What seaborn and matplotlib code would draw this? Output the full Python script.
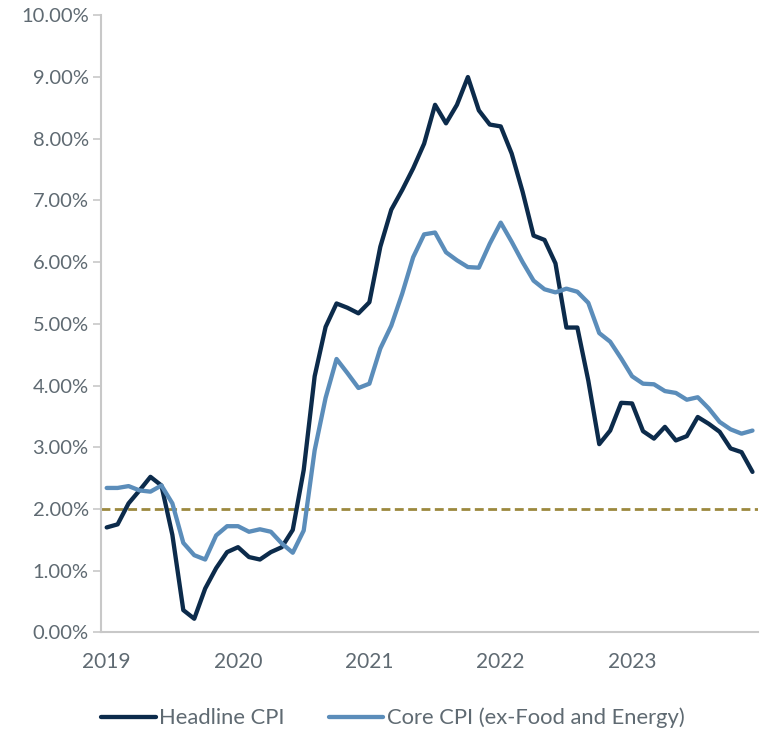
import numpy as np
import pandas as pd
import matplotlib.pyplot as plt
import matplotlib.ticker as mticker
import seaborn as sns

# valores (% interanual, mensual, 60 puntos)
MESES = np.arange(60)
HEADLINE = [1.70, 1.75, 2.09, 2.30, 2.52, 2.38, 1.58, 0.36, 0.22, 0.71, 1.04, 1.30,
            1.38, 1.22, 1.18, 1.30, 1.38, 1.66, 2.63, 4.15, 4.95, 5.33, 5.26, 5.17,
            5.35, 6.25, 6.85, 7.17, 7.52, 7.92, 8.55, 8.25, 8.55, 9.00, 8.46, 8.23,
            8.20, 7.76, 7.14, 6.43, 6.36, 5.98, 4.94, 4.94, 4.08, 3.05, 3.27, 3.72,
            3.71, 3.26, 3.14, 3.33, 3.11, 3.18, 3.49, 3.38, 3.25, 2.98, 2.92, 2.60]
CORE = [2.34, 2.34, 2.37, 2.30, 2.28, 2.38, 2.09, 1.45, 1.25, 1.18, 1.57, 1.72,
        1.72, 1.63, 1.67, 1.63, 1.44, 1.29, 1.65, 2.95, 3.80, 4.43, 4.20, 3.96,
        4.03, 4.60, 4.97, 5.49, 6.08, 6.45, 6.48, 6.16, 6.03, 5.92, 5.91, 6.30,
        6.64, 6.33, 6.00, 5.70, 5.56, 5.51, 5.57, 5.52, 5.34, 4.85, 4.71, 4.44,
        4.15, 4.03, 4.02, 3.91, 3.88, 3.77, 3.81, 3.63, 3.41, 3.29, 3.22, 3.27]
OBJETIVO = 2.0
ANIOS = ["2019", "2020", "2021", "2022", "2023"]
SERIES = ["Headline CPI", "Core CPI (ex-Food and Energy)"]
COLORES = {SERIES[0]: "#0c2b4b", SERIES[1]: "#5b8dba"}

df = pd.DataFrame({
    "mes": np.concatenate([MESES, MESES]),
    "valor": HEADLINE + CORE,
    "serie": [SERIES[0]] * 60 + [SERIES[1]] * 60,
})

sns.set_style("white")
plt.rcParams["font.family"] = ["Lato", "DejaVu Sans"]

fig, ax = plt.subplots(figsize=(7.61, 7.31), dpi=100)
fig.subplots_adjust(left=0.133, right=0.996, top=0.979, bottom=0.135)

ax.axhline(OBJETIVO, color="#9c893e", linestyle=(0, (3.2, 1.6)), linewidth=2, zorder=1)
sns.lineplot(data=df, x="mes", y="valor", hue="serie", palette=COLORES,
             linewidth=3.1, ax=ax, zorder=3)

ax.set_xlim(-0.5, 59.5)
ax.set_ylim(0, 10)
ax.yaxis.set_major_locator(mticker.MultipleLocator(1))
ax.yaxis.set_major_formatter(mticker.FuncFormatter(lambda v, p: f"{v:.2f}%"))
ax.set_xticks(np.arange(0, 60, 12))
ax.set_xticklabels(ANIOS)
ax.set_xticks(np.arange(-0.5, 60, 12), minor=True)
ax.tick_params(axis="x", which="major", length=0, pad=14, labelsize=15, labelcolor="#5f6a72")
ax.tick_params(axis="x", which="minor", length=7, width=1.2, color="#c8c8c8", direction="out")
ax.tick_params(axis="y", length=6, width=1.2, color="#c8c8c8", direction="out",
               labelsize=14.5, labelcolor="#5f6a72", pad=3, left=True)
ax.set_xlabel("")
ax.set_ylabel("")
for lado in ["top", "right"]:
    ax.spines[lado].set_visible(False)
for lado in ["left", "bottom"]:
    ax.spines[lado].set_color("#c8c8c8")
    ax.spines[lado].set_linewidth(1.5)

ax.legend(loc="upper center", bbox_to_anchor=(0.444, -0.09), ncol=2, frameon=False,
          fontsize=15.8, handlelength=2.5, handletextpad=0.15, columnspacing=2.0,
          labelcolor="#5f6a72")

plt.savefig("out.png", dpi=100)
plt.close()
